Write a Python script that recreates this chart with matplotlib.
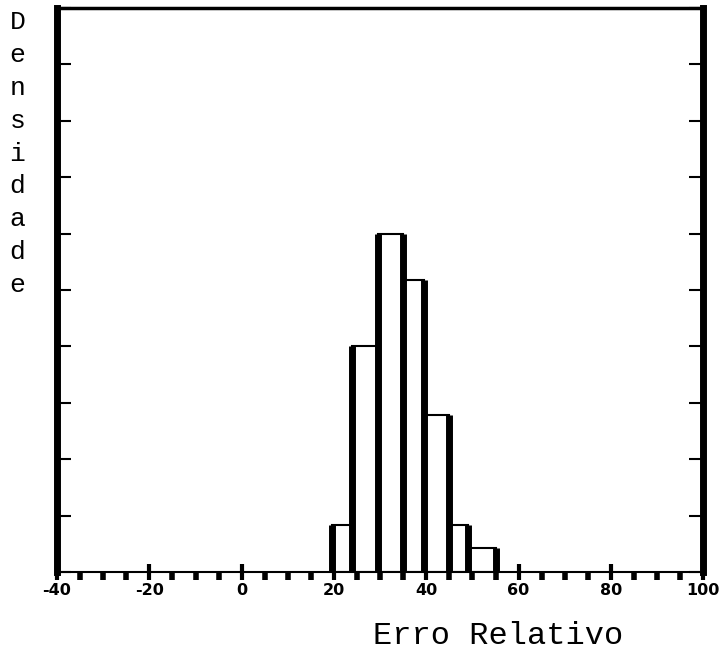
import matplotlib
matplotlib.use('Agg')
import matplotlib.pyplot as plt
from matplotlib.ticker import MultipleLocator
import numpy as np

# histogram bins (Erro Relativo) and heights (Densidade, tick units)
bin_edges = [19.5, 23.8, 29.5, 35.0, 39.5, 45.0, 49.0, 55.0]
heights = [0.83, 4.0, 6.0, 5.17, 2.78, 0.83, 0.42]
x_ticks = [-40, -20, 0, 20, 40, 60, 80, 100]
ylabel_text = "Densidade"
xlabel_text = "Erro Relativo"

fig = plt.figure(figsize=(7.22, 6.54), dpi=100, facecolor='white')
ax = fig.add_axes([0.079, 0.1254, 0.895, 0.8624])

lefts = np.array(bin_edges[:-1])
widths = np.diff(bin_edges)
ax.bar(lefts, heights, width=widths, align='edge', color='white',
       edgecolor='black', linewidth=1.5, zorder=2)

# thick vertical strokes at every bin edge, up to the taller neighbour
h = [0] + heights + [0]
edge_tops = [max(h[i], h[i + 1]) for i in range(len(bin_edges))]
ax.vlines(bin_edges, 0, edge_tops, colors='black', linewidth=5, zorder=3)

ax.set_xlim(-40, 100)
ax.set_ylim(0, 10)
ax.set_xticks(x_ticks)
ax.set_xticklabels([str(t) for t in x_ticks])
ax.xaxis.set_minor_locator(MultipleLocator(5))
ax.yaxis.set_major_locator(MultipleLocator(1))
ax.set_yticklabels([])

ax.tick_params(axis='x', which='major', direction='inout', length=12, width=3,
               labelsize=11.5, pad=2)
ax.tick_params(axis='x', which='minor', direction='out', length=6, width=4)
ax.tick_params(axis='y', which='major', direction='in', length=10, width=1.5,
               left=True, right=True, labelleft=False)
for lab in ax.get_xticklabels():
    lab.set_fontweight('bold')

ax.spines['left'].set_linewidth(5)
ax.spines['right'].set_linewidth(5)
ax.spines['top'].set_linewidth(2.5)
ax.spines['bottom'].set_linewidth(1.5)

fig.text(0.69, 0.016, xlabel_text, family='Liberation Mono', fontsize=23,
         ha='center', va='baseline')
fig.text(0.024, 0.985, "\n".join(ylabel_text), family='Liberation Mono',
         fontsize=19, ha='center', va='top', linespacing=1.47)

fig.savefig('out.png', dpi=100, facecolor='white')
